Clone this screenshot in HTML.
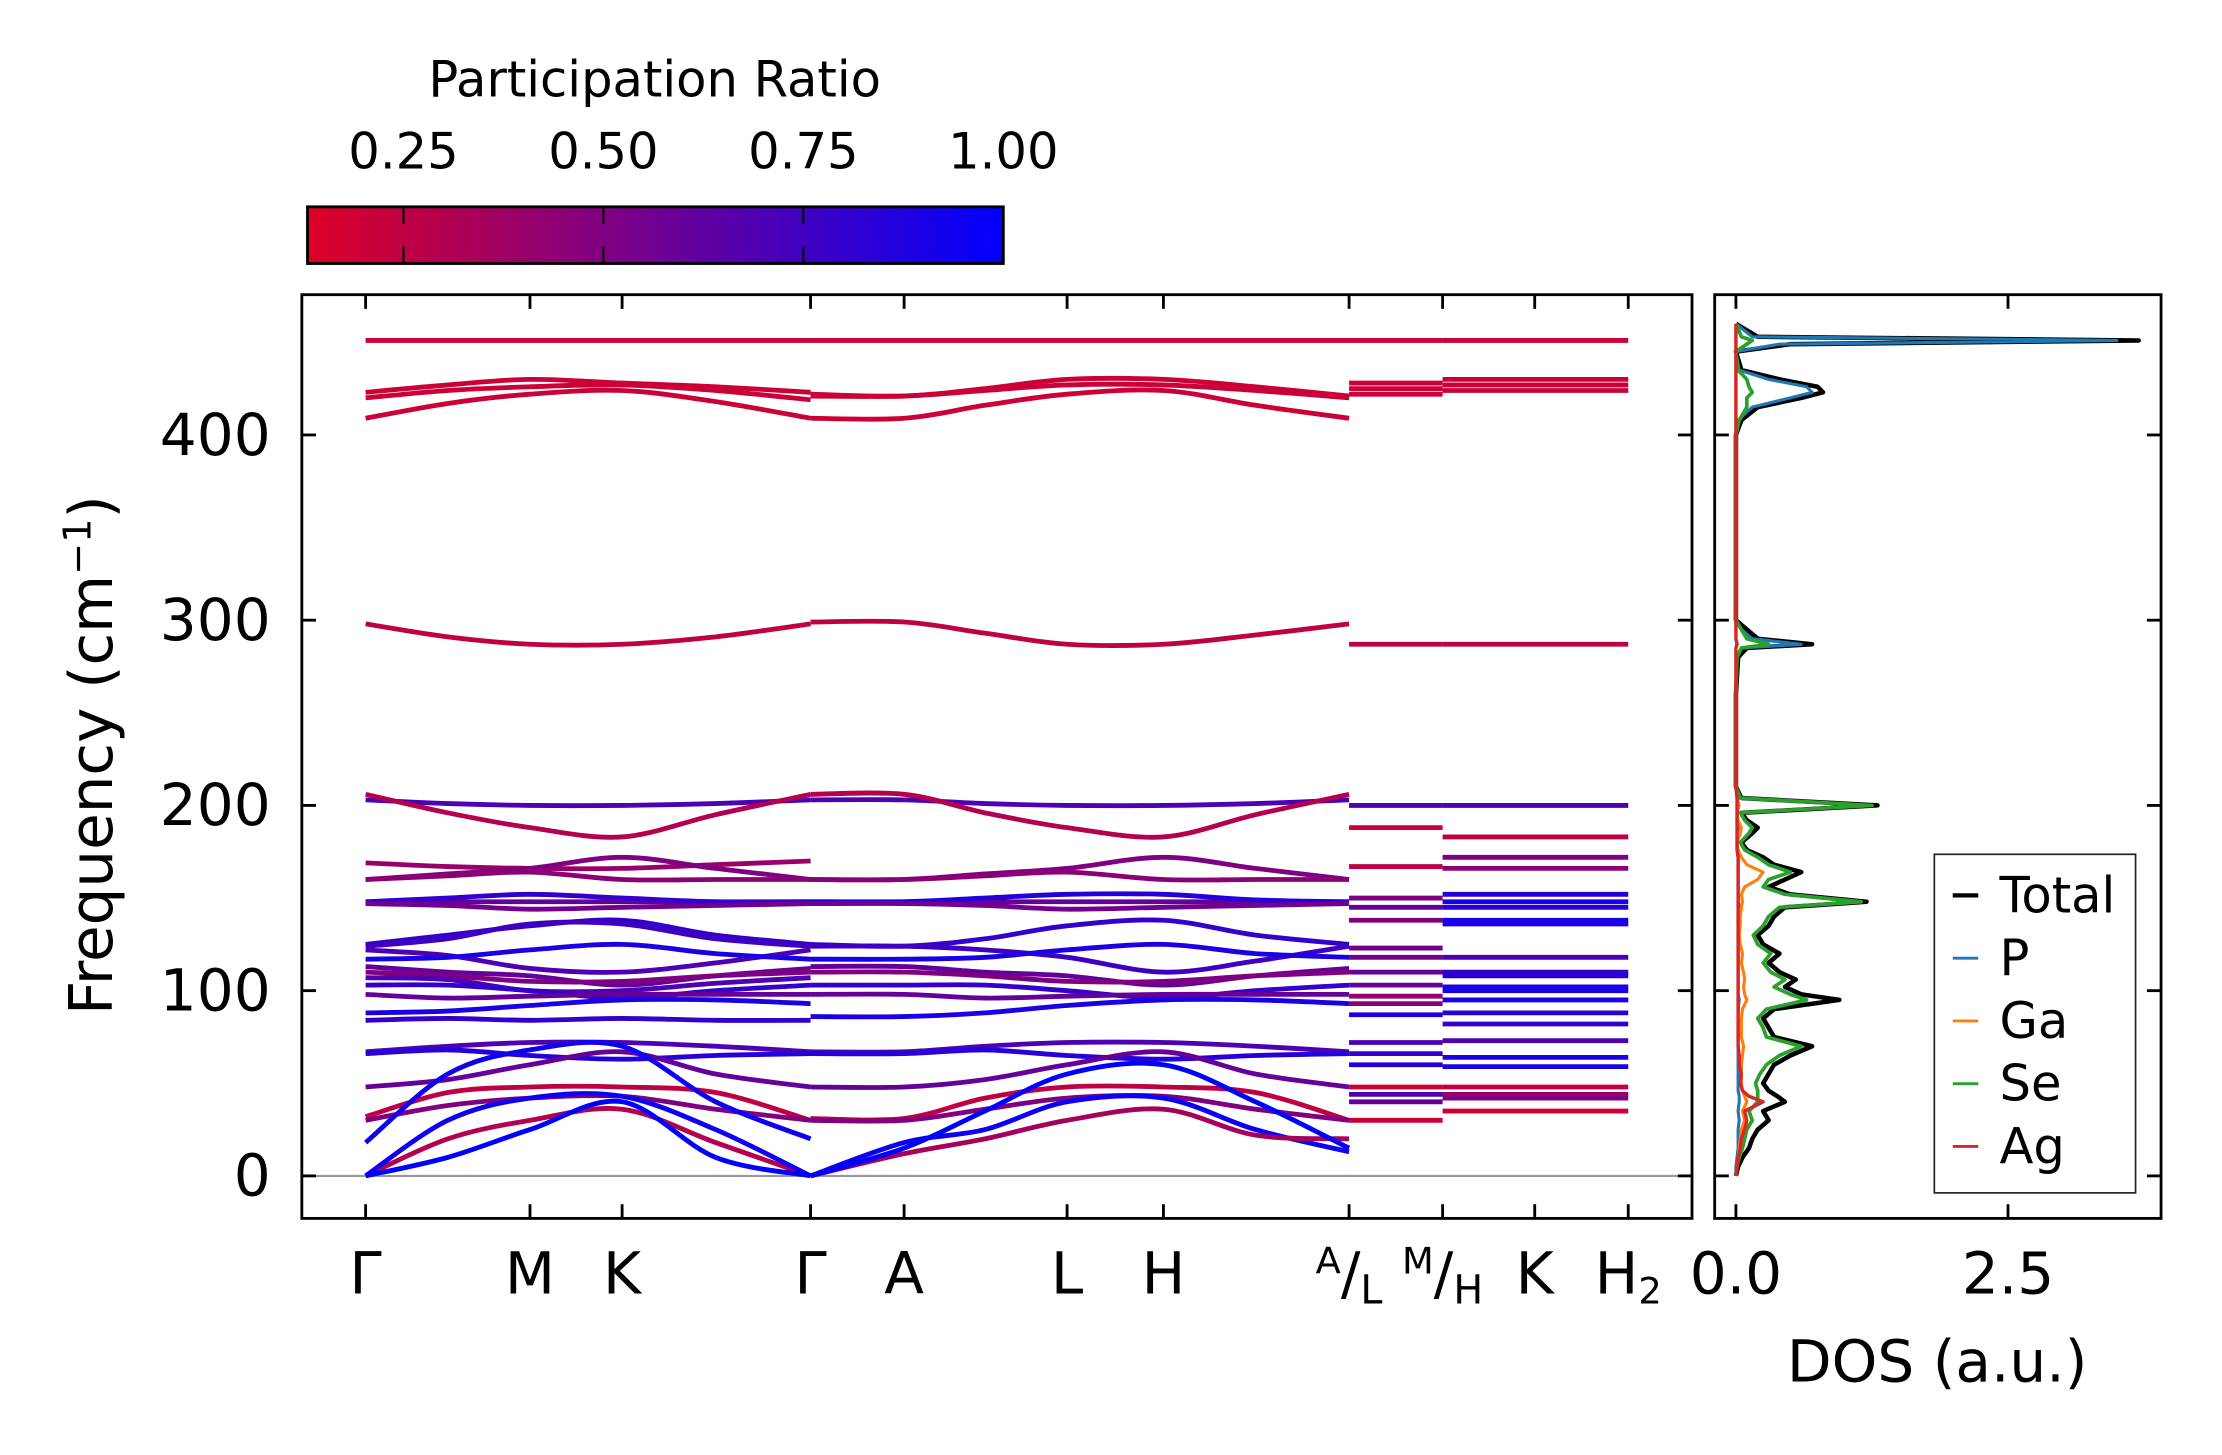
<!DOCTYPE html>
<html><head><meta charset="utf-8">
<style>
html,body{margin:0;padding:0;background:#fff;}
svg{display:block;font-family:"DejaVu Sans","Liberation Sans",sans-serif;}
</style></head>
<body>
<svg id="fig" width="2222" height="1455" viewBox="0 0 1568 1027" preserveAspectRatio="none" xmlns="http://www.w3.org/2000/svg">
<defs>
<linearGradient id="cbg" x1="0" x2="1" y1="0" y2="0">
<stop offset="0" stop-color="rgb(222,0,38)"/>
<stop offset="1" stop-color="rgb(0,0,255)"/>
</linearGradient>
</defs>
<g id="colorbar">
<text x="462" y="68" font-size="35" text-anchor="middle">Participation Ratio</text>
<rect x="217" y="146" width="491" height="40" fill="url(#cbg)" stroke="#000" stroke-width="2"/>
</g>
<g id="main"></g>
<g id="dos"></g>
</svg>
<script>
// ---------- data ----------
const cbTicks = [0.25, 0.50, 0.75, 1.00];
const cbTickLabels = ["0.25", "0.50", "0.75", "1.00"];
const yTicks = [0, 100, 200, 300, 400];
const kLabels = ["Γ","M","K","Γ","A","L","H","A/L","M/H","K","H2"];
// segment 1: Γ, mid, M, K, mid, Γ
const seg1Bands = [
[451,451,451,451,451,451],[423,427,430,428,426,423],[420,424,426,427,424,419],[409,417,422,424,418,409],
[298,291,287,287,291,298],[203,201,200,200,201,203],[206,196,188,183,195,206],[169,167,166,166,168,170],
[160,163,166,172,166,160],[160,162,164,160,160,160],[148,148,148,148,148,148],[148,150,152,150,148,148],
[147,146,144,145,146,147],[125,130,135,138,130,125],[124,128,136,136,128,124],[122,119,112,110,115,122],
[117,118,122,125,120,117],[113,110,108,103,108,112],[110,108,105,105,108,110],[107,106,100,100,104,107],
[103,103,100,96,100,103],[98,96,97,98,98,98],[88,89,92,95,95,93],[84,85,84,85,84,84],
[67,70,72,72,70,67],[66,68,65,63,65,66],[48,52,60,67,55,48],[32,45,48,48,45,30],
[30,38,42,43,36,30],[0,20,30,36,18,0],[0,30,42,43,25,0],[0,10,25,40,10,0],[18,55,68,70,40,20]
];
const seg1Ratio = [0.2,0.2,0.2,0.2,0.25,0.7,0.3,0.4,0.5,0.45,0.6,0.8,0.55,0.8,0.75,0.7,0.9,0.6,0.5,0.7,0.8,0.6,0.9,0.8,0.7,0.85,0.6,0.25,0.5,0.3,0.95,1.0,0.95];
// segment 2: Γ, A, mid, L, H, mid, A
const seg2Bands = [
[451,451,451,451,451,451,451],[422,421,425,430,430,426,421],[421,421,424,427,427,424,420],[409,409,416,422,424,416,409],
[299,299,293,287,287,292,298],[203,203,201,200,200,201,203],[206,206,196,188,183,195,206],[160,160,163,166,172,166,160],
[160,160,162,164,160,160,160],[148,148,148,148,148,148,148],[148,148,150,152,152,149,148],[147,147,146,144,145,146,147],
[125,124,128,135,138,130,125],[124,124,122,118,110,116,124],[117,117,118,122,125,120,118],[113,113,110,108,103,108,112],
[110,110,108,105,105,108,110],[103,103,103,100,96,100,103],[98,98,96,97,98,98,98],[86,86,88,92,95,95,93],
[67,67,70,72,72,70,67],[66,66,68,65,63,65,66],[48,48,52,60,67,55,48],[31,31,42,48,48,45,30],
[30,30,36,42,43,36,30],[0,18,25,40,42,25,13],[0,12,20,30,36,22,20],[0,15,35,55,60,40,15]
];
const seg2Ratio = [0.2,0.2,0.2,0.2,0.25,0.7,0.3,0.5,0.45,0.6,0.85,0.55,0.8,0.75,0.9,0.6,0.5,0.8,0.6,0.9,0.7,0.85,0.6,0.25,0.5,0.95,0.35,1.0];
const seg3Freq = [451,428,425,422,287,200,188,167,150,145,138,123,118,110,103,97,93,87,72,66,60,48,44,40,30];
const seg3Ratio = [0.2,0.2,0.2,0.2,0.25,0.7,0.2,0.25,0.5,0.6,0.5,0.55,0.55,0.6,0.6,0.4,0.45,0.9,0.7,0.8,0.85,0.2,0.7,0.6,0.2];
const seg4Freq = [451,430,427,424,287,200,183,172,166,152,148,145,138,136,118,110,108,102,100,95,88,82,73,64,59,48,44,42,35];
const seg4Ratio = [0.2,0.2,0.2,0.2,0.25,0.7,0.25,0.5,0.45,0.85,0.9,0.85,0.9,0.9,0.7,0.8,0.85,0.9,0.9,0.9,0.85,0.8,0.7,0.9,0.9,0.25,0.4,0.5,0.2];
// DOS
const dosFreq = [0,5,10,15,20,25,30,35,40,43,46,50,55,60,65,70,75,80,85,90,95,98,102,106,110,115,120,125,130,135,140,145,148,152,156,160,164,168,172,176,180,185,188,192,196,200,204,210,260,280,285,287,290,295,300,400,408,415,420,423,426,430,435,445,449,451,453,460];
const dosTotal = [0,.02,.06,.12,.15,.2,.3,.25,.45,.38,.3,.25,.3,.35,.5,.7,.35,.3,.25,.35,.95,.6,.45,.55,.4,.3,.4,.25,.2,.3,.35,.45,1.2,.5,.3,.45,.6,.35,.25,.1,.05,.15,.2,.1,.05,1.3,.05,0,0,.02,.1,.7,.2,.1,0,0,.05,.2,.6,.8,.75,.4,.05,0,.5,3.7,.2,0];
const dosP = [0,0,.01,.02,.02,.02,.03,.02,.03,.03,.02,.02,.02,.02,.02,.02,.02,.02,.02,.02,.03,.02,.02,.02,.02,.02,.02,.02,.02,.02,.02,.03,.02,.02,.02,.02,.02,.02,.02,.01,.01,.01,.02,.01,.01,.02,.01,0,0,.01,.05,.6,.15,.05,0,0,.02,.15,.5,.7,.65,.3,.03,0,.4,3.5,.15,0];
const dosGa = [0,.01,.02,.03,.04,.05,.08,.06,.1,.08,.06,.05,.05,.05,.06,.07,.05,.05,.05,.06,.1,.08,.07,.08,.07,.05,.06,.04,.03,.04,.04,.05,.06,.05,.08,.2,.25,.1,.05,.02,.01,.04,.05,.02,.01,.03,.01,0,0,0,0,.01,0,0,0,0,0,0,0,0,0,0,0,0,0,0,0,0];
const dosSe = [0,.01,.03,.06,.08,.1,.15,.12,.2,.2,.2,.18,.22,.28,.4,.6,.28,.25,.2,.28,.65,.5,.35,.45,.32,.25,.32,.2,.16,.25,.3,.4,1.15,.45,.25,.3,.5,.3,.2,.08,.04,.12,.15,.08,.04,1.25,.04,0,0,.01,.05,.3,.1,.05,0,0,.03,.1,.1,.15,.12,.1,.02,0,.1,.15,.05,0];
const dosAg = [0,.01,.02,.04,.05,.08,.1,.08,.25,.12,.06,.04,.05,.03,.03,.02,.02,.02,.02,.02,.02,.02,.02,.02,.02,.02,.02,.02,.02,.02,.02,.02,.02,.02,.02,.02,.02,.02,.02,.01,.01,.01,.01,.01,.01,.01,.01,0,0,0,0,.01,0,0,0,0,0,0,0,0,0,0,0,0,0,0,0,0];
const dosNames = ["Total","P","Ga","Se","Ag"];
const dosXTicks = [0, 2.5];
const dosXTickLabels = ["0.0","2.5"];

// ---------- layout ----------
const NS="http://www.w3.org/2000/svg";
const AX={l:213,r:1194,t:208,b:860};
const DX={l:1210,r:1525,t:208,b:860};
const kPos=[258,374,439,572,638,753,821,952,1018,1083,1149];
const seg1X=[258,316,374,439,505,572];
const seg2X=[572,638,695,753,821,886,952];
function Y(f){return 830-(f/100)*130.75;}
function DXs(v){return 1225+v*76.8;}
function CBX(r){return 217+(r-0.13)/(1-0.13)*491;}
function col(r){const t=Math.max(0,Math.min(1,(r-0.13)/0.87));return `rgb(${Math.round(222*(1-t))},0,${Math.round(38+(255-38)*t)})`;}
function el(tag,attrs,parent){const e=document.createElementNS(NS,tag);for(const k in attrs)e.setAttribute(k,attrs[k]);parent.appendChild(e);return e;}
function smooth(pts){let d=`M${pts[0][0]},${pts[0][1]}`;for(let i=0;i<pts.length-1;i++){const p0=pts[Math.max(0,i-1)],p1=pts[i],p2=pts[i+1],p3=pts[Math.min(pts.length-1,i+2)];const c1=[p1[0]+(p2[0]-p0[0])/6,p1[1]+(p2[1]-p0[1])/6];const c2=[p2[0]-(p3[0]-p1[0])/6,p2[1]-(p3[1]-p1[1])/6];d+=` C${c1[0]},${c1[1]} ${c2[0]},${c2[1]} ${p2[0]},${p2[1]}`;}return d;}
const BW=3.4;
const FS=41;

// colorbar ticks
const cb=document.getElementById('colorbar');
cbTicks.forEach((v,i)=>{
  const x=CBX(v);
  if(i<cbTicks.length-1){
    const t1=el('line',{x1:x,x2:x,y1:146,y2:158,stroke:'#000','stroke-width':1.5},cb);
    
    
    const t2=el('line',{x1:x,x2:x,y1:174,y2:186,stroke:'#000','stroke-width':1.5},cb);
    
    
  }
  const tx=el('text',{x:x,y:119,'font-size':35,'text-anchor':'middle'},cb);
  tx.textContent=cbTickLabels[i];
  
  
});

// main panel
const g=document.getElementById('main');
const zl=el('line',{x1:AX.l,x2:AX.r,y1:Y(0),y2:Y(0),stroke:'#999','stroke-width':1.5},g);


seg1Bands.forEach((b,i)=>{
  const p=el('path',{d:smooth(b.map((v,j)=>[seg1X[j],Y(v)])),fill:'none',stroke:col(seg1Ratio[i]),'stroke-width':BW},g);
  
  
});
seg2Bands.forEach((b,i)=>{
  const p=el('path',{d:smooth(b.map((v,j)=>[seg2X[j],Y(v)])),fill:'none',stroke:col(seg2Ratio[i]),'stroke-width':BW},g);
  
  
});
seg3Freq.forEach((v,i)=>{
  const p=el('line',{x1:952,x2:1018,y1:Y(v),y2:Y(v),stroke:col(seg3Ratio[i]),'stroke-width':BW},g);
  
  
});
seg4Freq.forEach((v,i)=>{
  const p=el('line',{x1:1018,x2:1149,y1:Y(v),y2:Y(v),stroke:col(seg4Ratio[i]),'stroke-width':BW},g);
  
  
});
const fr=el('rect',{x:AX.l,y:AX.t,width:AX.r-AX.l,height:AX.b-AX.t,fill:'none',stroke:'#000','stroke-width':2},g);


yTicks.forEach(v=>{
  const y=Y(v);
  el('line',{x1:AX.l,x2:AX.l+10,y1:y,y2:y,stroke:'#000','stroke-width':2},g);
  el('line',{x1:AX.r-10,x2:AX.r,y1:y,y2:y,stroke:'#000','stroke-width':2},g);
  const t=el('text',{x:191,y:y+14,'font-size':FS,'text-anchor':'end'},g);
  t.textContent=v;
  
  
});
kPos.forEach((x,i)=>{
  el('line',{x1:x,x2:x,y1:AX.t,y2:AX.t+10,stroke:'#000','stroke-width':2},g);
  el('line',{x1:x,x2:x,y1:AX.b-10,y2:AX.b,stroke:'#000','stroke-width':2},g);
  const lab=kLabels[i];
  const t=el('text',{x:x,y:913,'font-size':FS,'text-anchor':'middle'},g);
  
  
  if(lab.includes('/')){
    const [a,b]=lab.split('/');
    t.innerHTML=`<tspan font-size="26" dy="-14">${a}</tspan><tspan dy="14">/</tspan><tspan font-size="28" dy="7">${b}</tspan>`;
  } else if(lab==='H2'){
    t.innerHTML=`H<tspan font-size="26" dy="7">2</tspan>`;
  } else t.textContent=lab;
});
const yl=el('text',{x:0,y:0,'font-size':42,'text-anchor':'middle',transform:'translate(79,533) rotate(-90)'},g);
yl.innerHTML='Frequency (cm<tspan font-size="27" dy="-15">−1</tspan><tspan dy="15">)</tspan>';



// DOS panel
const d=document.getElementById('dos');
const dosSeries=[dosTotal,dosP,dosGa,dosSe,dosAg];
const dosColors=['#000','#1f77b4','#ff7f0e','#2ca02c','#d62728'];
const dosW=[3.2,2.2,2.2,2.6,2.4];
dosSeries.forEach((s,k)=>{
  const pts=dosFreq.map((f,i)=>`${DXs(s[i]||0)},${Y(f)}`).join(' ');
  const p=el('polyline',{points:pts,fill:'none',stroke:dosColors[k],'stroke-width':dosW[k],'stroke-linejoin':'round'},d);
  
  
});
const df=el('rect',{x:DX.l,y:DX.t,width:DX.r-DX.l,height:DX.b-DX.t,fill:'none',stroke:'#000','stroke-width':2},d);


yTicks.forEach(v=>{
  const y=Y(v);
  el('line',{x1:DX.l,x2:DX.l+10,y1:y,y2:y,stroke:'#000','stroke-width':2},d);
  el('line',{x1:DX.r-10,x2:DX.r,y1:y,y2:y,stroke:'#000','stroke-width':2},d);
});
dosXTicks.forEach((v,i)=>{
  const x=DXs(v);
  el('line',{x1:x,x2:x,y1:DX.t,y2:DX.t+10,stroke:'#000','stroke-width':2},d);
  el('line',{x1:x,x2:x,y1:DX.b-10,y2:DX.b,stroke:'#000','stroke-width':2},d);
  const t=el('text',{x:x,y:913,'font-size':FS,'text-anchor':'middle'},d);
  t.textContent=dosXTickLabels[i];
  
  
});
const dl=el('text',{x:1367,y:975,'font-size':FS,'text-anchor':'middle'},d);
dl.textContent='DOS (a.u.)';


// legend
const lg=el('g',{},d);


el('rect',{x:1365,y:603,width:142,height:239,fill:'#fff',stroke:'#222','stroke-width':1.2},lg);
dosNames.forEach((n,k)=>{
  const y=632+k*44.3;
  const ln=el('line',{x1:1378,x2:1396,y1:y,y2:y,stroke:dosColors[k],'stroke-width':k===0?3:2},lg);
  
  
  const t=el('text',{x:1411,y:y+12,'font-size':35},lg);
  t.textContent=n;
  
  
});
</script>
</body></html>
